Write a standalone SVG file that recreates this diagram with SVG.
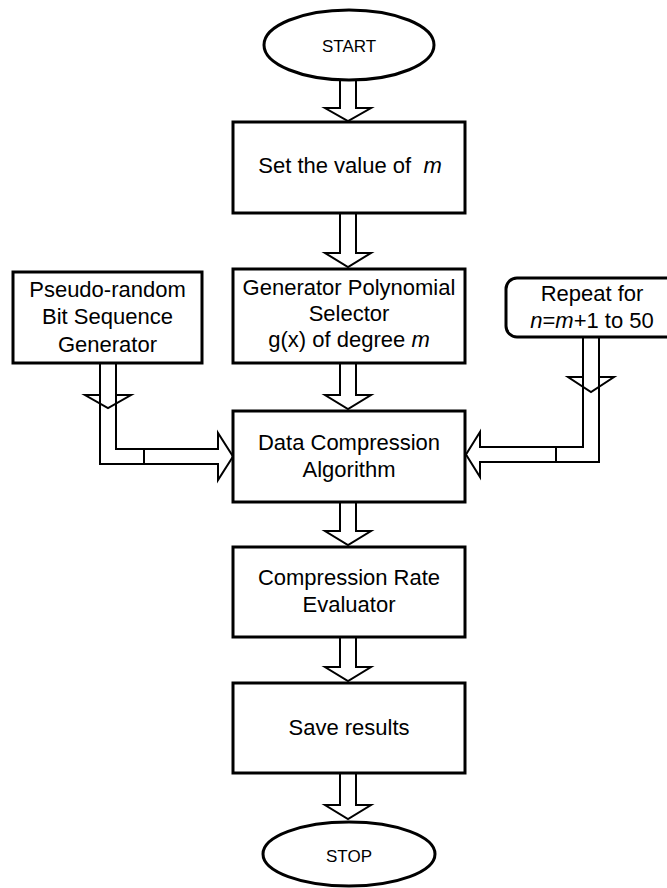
<svg xmlns="http://www.w3.org/2000/svg" width="667" height="888" viewBox="0 0 667 888">
<style>
.box{fill:#fff;stroke:#000;stroke-width:3}
.arr{fill:#fff;stroke:#000;stroke-width:2;stroke-linejoin:miter}
.ln{fill:none;stroke:#000;stroke-width:2}
text{font-family:"Liberation Sans",Arial,sans-serif;font-size:22px;fill:#000;text-anchor:middle}
.small{font-size:17px}
.it{font-style:italic}
</style>
<rect x="0" y="0" width="667" height="888" fill="#fff"/>
<g id="connectors">
  <path class="arr" d="M340,79 V108 H325 L348,121 L371,108 H356 V79"/>
  <path class="arr" d="M340,213 V253 H325 L348,267 L371,253 H356 V213"/>
  <path class="arr" d="M340,363 V395 H325 L348,409 L371,395 H356 V363"/>
  <path class="arr" d="M340,502 V531 H325 L348,545 L371,531 H356 V502"/>
  <path class="arr" d="M340,637 V667 H325 L348,681 L371,667 H356 V637"/>
  <path class="arr" d="M340,773 V805 H325 L348,819 L371,805 H356 V773"/>
  <!-- left bent arrow -->
  <path class="ln" d="M100,364 V395 H85 L108,408 L131,395 H116"/>
  <path class="ln" d="M100,364 V464 H218 V480 L233,456.5 L218,433 V449 H116 V364"/>
  <path class="ln" d="M144,449 V464"/>
  <!-- right bent arrow -->
  <path class="ln" d="M583,338 V377 H568 L591,392 L614,377 H599"/>
  <path class="ln" d="M583,338 V447 H480 V432 L466,454.5 L480,477 V462 H599 V338"/>
  <path class="ln" d="M556,447 V462"/>
</g>
<g id="start">
  <ellipse class="box" cx="349" cy="45" rx="85" ry="35"/>
  <text class="small" x="349" y="52">START</text>
</g>
<g id="set-m">
  <rect class="box" x="233" y="122" width="232" height="91"/>
  <text x="350" y="173" xml:space="preserve">Set the value of  <tspan class="it">m</tspan></text>
</g>
<g id="generator">
  <rect class="box" x="233" y="269" width="232" height="94"/>
  <text x="349" y="295">Generator Polynomial</text>
  <text x="349" y="321">Selector</text>
  <text x="349" y="347">g(x) of degree <tspan class="it">m</tspan></text>
</g>
<g id="prbs">
  <rect class="box" x="13" y="272" width="189" height="91"/>
  <text x="107.5" y="297">Pseudo-random</text>
  <text x="107.5" y="324">Bit Sequence</text>
  <text x="107.5" y="352">Generator</text>
</g>
<g id="repeat">
  <rect class="box" x="506" y="278" width="180" height="59" rx="11" ry="11"/>
  <text x="592" y="301">Repeat for</text>
  <text x="592" y="328"><tspan class="it">n</tspan>=<tspan class="it">m</tspan>+1 to 50</text>
</g>
<g id="compression">
  <rect class="box" x="233" y="411" width="232" height="91"/>
  <text x="349" y="450">Data Compression</text>
  <text x="349" y="477">Algorithm</text>
</g>
<g id="evaluator">
  <rect class="box" x="233" y="547" width="232" height="90"/>
  <text x="349" y="585">Compression Rate</text>
  <text x="349" y="612">Evaluator</text>
</g>
<g id="save">
  <rect class="box" x="233" y="683" width="232" height="90"/>
  <text x="349" y="735">Save results</text>
</g>
<g id="stop">
  <ellipse class="box" cx="349" cy="854" rx="86" ry="32"/>
  <text class="small" x="349" y="862">STOP</text>
</g>
</svg>
